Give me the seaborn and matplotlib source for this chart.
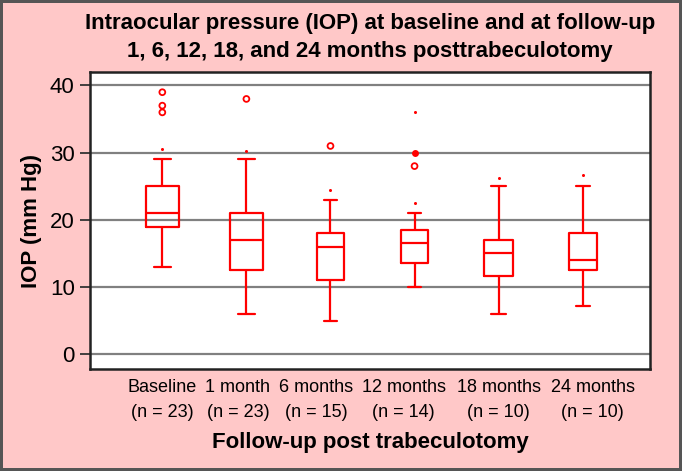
import numpy as np
import matplotlib
matplotlib.use('Agg')
import matplotlib.pyplot as plt
import seaborn as sns
import pandas as pd


groups = ['Baseline\n(n = 23)', '1 month\n(n = 23)', '6 months\n(n = 15)',
          '12 months\n(n = 14)', '18 months\n(n = 10)', '24 months\n(n = 10)']
whisker_low = [13, 6, 5, 10, 6, 7.2]
q1 = [19, 12.5, 11, 13.6, 11.6, 12.6]
median = [21, 17, 16, 16.5, 15, 14]
q3 = [25, 21, 18, 18.5, 17, 18]
whisker_high = [29, 29, 23, 21, 25, 25]
box_widths = [0.40, 0.40, 0.32, 0.33, 0.34, 0.33]

# open circles
outlier_group = ['Baseline\n(n = 23)', 'Baseline\n(n = 23)', 'Baseline\n(n = 23)',
                 '1 month\n(n = 23)', '6 months\n(n = 15)', '12 months\n(n = 14)']
outlier_value = [39, 37, 36, 38, 31, 28]
# filled circle
filled_group = ['12 months\n(n = 14)']
filled_value = [30]
# small dots
dot_group = groups + ['12 months\n(n = 14)']
dot_value = [30.5, 30.3, 24.5, 22.5, 26.3, 26.7, 36]

# the labels in the original sit a little off the box centres
label_offsets = [0.0, -0.1, -0.17, -0.13, 0.0, 0.12]

pink = '#ffc8c8'
red = '#ff0000'


def main():
    sns.set_style('white')
    plt.rcParams['font.family'] = ['Liberation Sans', 'DejaVu Sans']
    plt.rcParams['text.color'] = 'black'
    plt.rcParams['axes.labelcolor'] = 'black'
    plt.rcParams['xtick.color'] = 'black'
    plt.rcParams['ytick.color'] = 'black'

    fig = plt.figure(figsize=(6.82, 4.71), dpi=100)
    fig.patch.set_facecolor(pink)
    fig.patch.set_edgecolor('#555555')
    fig.patch.set_linewidth(3)
    ax = fig.add_axes([0.132, 0.2166, 0.821, 0.6304])
    ax.set_facecolor('white')

    for i, g in enumerate(groups):
        df_g = pd.DataFrame({
            'group': [g] * 5,
            'iop': [whisker_low[i], q1[i], median[i], q3[i], whisker_high[i]],
        })
        sns.boxplot(data=df_g, x='group', y='iop', order=groups, whis=(0, 100),
                    width=box_widths[i], fill=False, color=red, linewidth=1.6,
                    showfliers=False, ax=ax)

    n_before = len(ax.collections)
    sns.stripplot(x=outlier_group, y=outlier_value, order=groups, jitter=False,
                  color=red, size=4.2, ax=ax)
    for circles in ax.collections[n_before:]:
        circles.set_facecolor('none')
        circles.set_edgecolor(red)
        circles.set_linewidth(1.3)

    sns.stripplot(x=filled_group, y=filled_value, order=groups, jitter=False,
                  color=red, size=5, ax=ax)
    sns.stripplot(x=dot_group, y=dot_value, order=groups, jitter=False,
                  color=red, size=2.2, ax=ax)

    ax.set_xlim(-0.86, 5.8)
    ax.set_ylim(-2.2, 42)
    ax.set_yticks([0, 10, 20, 30, 40])
    ax.set_xticks(np.arange(len(groups)) + np.array(label_offsets))
    ax.set_xticklabels(groups, linespacing=1.65)
    ax.yaxis.grid(True, color='#808080', linewidth=1.6)
    ax.xaxis.grid(False)
    ax.set_axisbelow(True)
    ax.tick_params(axis='y', length=7, width=1.3, color='#333333', pad=4,
                   labelsize=16, left=True)
    ax.tick_params(axis='x', length=0, labelsize=13, pad=7)
    for spine in ax.spines.values():
        spine.set_visible(True)
        spine.set_color('#222222')
        spine.set_linewidth(1.8)

    ax.set_xlabel('Follow-up post trabeculotomy', fontsize=16, fontweight='bold', labelpad=8)
    ax.set_ylabel('IOP (mm Hg)', fontsize=16, fontweight='bold', labelpad=6)
    ax.set_title('Intraocular pressure (IOP) at baseline and at follow-up\n'
                 '1, 6, 12, 18, and 24 months posttrabeculotomy',
                 fontsize=16, fontweight='bold', pad=11, linespacing=1.45)

    fig.savefig('out.png', dpi=100, facecolor=fig.get_facecolor(),
                edgecolor=fig.patch.get_edgecolor())


if __name__ == '__main__':
    main()
